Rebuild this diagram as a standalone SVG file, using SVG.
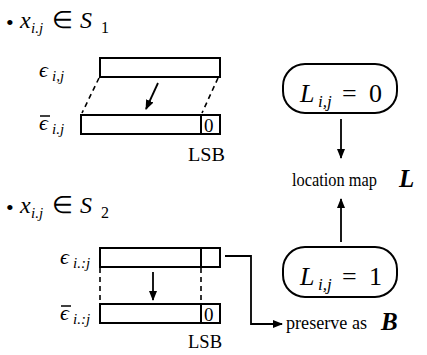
<svg xmlns="http://www.w3.org/2000/svg" width="427" height="355" viewBox="0 0 427 355">
<defs>
<marker id="ah" viewBox="0 0 10 8" refX="9" refY="4" markerWidth="10" markerHeight="8" markerUnits="userSpaceOnUse" orient="auto">
<path d="M0,0 L10,4 L0,8 Z" fill="#000"/>
</marker>
</defs>
<style>
.m{font-style:italic}
.b{font-weight:bold;font-style:italic}
.box{fill:#fff;stroke:#000;stroke-width:2}
.ln{fill:none;stroke:#000;stroke-width:1.8}
.ds{fill:none;stroke:#000;stroke-width:1.6;stroke-dasharray:5 4}
</style>
<rect width="427" height="355" fill="#fff"/>

<g id="s1">
<text font-family="Liberation Serif" x="6" y="30" font-size="22">•</text>
<text font-family="Liberation Serif" y="28" font-size="24"><tspan class="m" x="20">x</tspan><tspan class="m" x="31" y="33" font-size="15">i.j</tspan><tspan x="52" y="28">∈</tspan><tspan class="m" x="80">S</tspan><tspan x="101" y="33" font-size="16">1</tspan></text>
</g>
<g id="s1-eps">
<text font-family="Liberation Serif" y="77" font-size="22"><tspan class="m" x="39">ϵ</tspan><tspan class="m" x="52" y="81" font-size="15">i,j</tspan></text>
</g>
<g id="s1-epsbar">
<line x1="40" y1="116" x2="50" y2="116" stroke="#000" stroke-width="1.5"/>
<text font-family="Liberation Serif" y="130" font-size="22"><tspan class="m" x="39">ϵ</tspan><tspan class="m" x="52" y="134" font-size="15">i.j</tspan></text>
</g>
<g id="s1-top">
<rect class="box" x="100" y="58" width="120" height="19"/>
</g>
<g id="s1-bottom">
<rect class="box" x="81" y="115" width="139" height="19"/>
<line x1="201" y1="115" x2="201" y2="134" stroke="#000" stroke-width="2"/>
<text font-family="Liberation Serif" x="204" y="132" font-size="19">0</text>
<text font-family="Liberation Serif" x="188" y="161" font-size="19" textLength="37" lengthAdjust="spacingAndGlyphs">LSB</text>
</g>

<g id="s2">
<text font-family="Liberation Serif" x="6" y="215" font-size="22">•</text>
<text font-family="Liberation Serif" y="213" font-size="24"><tspan class="m" x="20">x</tspan><tspan class="m" x="31" y="218" font-size="15">i.j</tspan><tspan x="52" y="213">∈</tspan><tspan class="m" x="80">S</tspan><tspan x="101" y="218" font-size="16">2</tspan></text>
</g>
<g id="s2-eps">
<text font-family="Liberation Serif" y="264" font-size="22"><tspan class="m" x="60">ϵ</tspan><tspan class="m" x="73" y="268" font-size="15">i.:j</tspan></text>
</g>
<g id="s2-epsbar">
<line x1="61" y1="306" x2="71" y2="306" stroke="#000" stroke-width="1.5"/>
<text font-family="Liberation Serif" y="320" font-size="22"><tspan class="m" x="60">ϵ</tspan><tspan class="m" x="73" y="324" font-size="15">i.:j</tspan></text>
</g>
<g id="s2-top">
<rect class="box" x="100" y="248" width="120" height="19"/>
<line x1="201" y1="248" x2="201" y2="267" stroke="#000" stroke-width="2"/>
</g>
<g id="s2-bottom">
<rect class="box" x="100" y="304" width="120" height="19"/>
<line x1="201" y1="304" x2="201" y2="323" stroke="#000" stroke-width="2"/>
<text font-family="Liberation Serif" x="204" y="321" font-size="19">0</text>
<text font-family="Liberation Serif" x="188" y="348" font-size="19" textLength="34" lengthAdjust="spacingAndGlyphs">LSB</text>
</g>

<g id="L0">
<rect class="box" x="283" y="64" width="114" height="49" rx="22" ry="22"/>
<text font-family="Liberation Serif" y="102" font-size="26"><tspan class="m" x="300">L</tspan><tspan class="m" x="318" y="107" font-size="17">i,j</tspan><tspan x="342" y="102">=</tspan><tspan x="369">0</tspan></text>
</g>
<g id="loc">
<text font-family="Liberation Serif" x="292" y="186" font-size="19" textLength="85" lengthAdjust="spacingAndGlyphs">location map</text>
<text font-family="Liberation Serif" class="b" x="399" y="187" font-size="25">L</text>
</g>
<g id="L1">
<rect class="box" x="283" y="247" width="114" height="50" rx="22" ry="22"/>
<text font-family="Liberation Serif" y="285" font-size="26"><tspan class="m" x="300">L</tspan><tspan class="m" x="318" y="290" font-size="17">i,j</tspan><tspan x="342" y="285">=</tspan><tspan x="369">1</tspan></text>
</g>
<g id="preserve">
<text font-family="Liberation Serif" x="286" y="329" font-size="19" textLength="81" lengthAdjust="spacingAndGlyphs">preserve as</text>
<text font-family="Liberation Serif" class="b" x="381" y="330" font-size="25">B</text>
</g>

<g id="connectors">
<line class="ds" x1="99" y1="78" x2="82" y2="113"/>
<line class="ds" x1="218" y1="78" x2="202" y2="113"/>
<line class="ln" x1="158" y1="83" x2="146" y2="109" marker-end="url(#ah)"/>
<line class="ds" x1="100" y1="268" x2="100" y2="303"/>
<line class="ds" x1="201" y1="268" x2="201" y2="303"/>
<line class="ln" x1="153" y1="272" x2="153" y2="300" marker-end="url(#ah)"/>
<polyline class="ln" points="225,256 251,256 251,324 282,324" marker-end="url(#ah)"/>
<line class="ln" x1="341" y1="119" x2="341" y2="158" marker-end="url(#ah)"/>
<line class="ln" x1="341" y1="242" x2="341" y2="199" marker-end="url(#ah)"/>
</g>
</svg>
